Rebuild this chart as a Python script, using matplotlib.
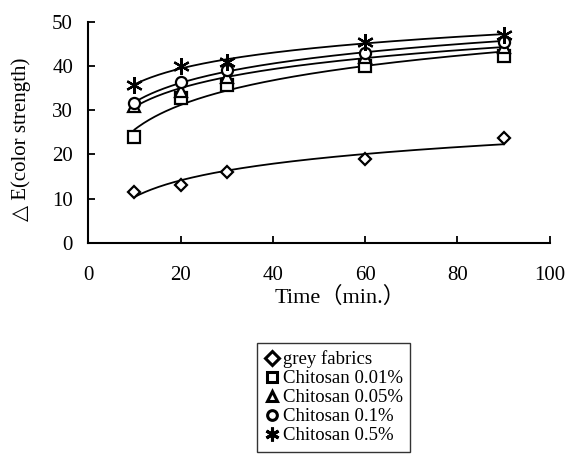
import numpy as np
import matplotlib
matplotlib.use("Agg")
import matplotlib.pyplot as plt

# Data
time_min = [10, 20, 30, 60, 90]
grey = [11.4, 13.0, 16.1, 19.0, 23.6]
chit_001 = [23.9, 32.7, 35.7, 39.9, 42.2]
chit_005 = [31.0, 34.4, 37.6, 42.0, 44.2]
chit_01 = [31.5, 36.3, 39.1, 43.0, 45.5]
chit_05 = [35.7, 39.9, 40.9, 45.5, 47.0]

labels = ["grey fabrics", "Chitosan 0.01%", "Chitosan 0.05%",
          "Chitosan 0.1%", "Chitosan 0.5%"]
series = [grey, chit_001, chit_005, chit_01, chit_05]
markers = ["D", "s", "^", "o", (6, 2, 0)]
msizes = [6, 8, 8, 8, 12]

serif = ["Liberation Serif", "DejaVu Serif", "Noto Sans CJK SC"]
plt.rcParams["font.family"] = serif

fig = plt.figure(figsize=(5.68, 4.54), dpi=100)
ax = fig.add_axes([0.1555, 0.4654, 0.9678 - 0.1555, 0.9522 - 0.4654])

x = np.array(time_min, dtype=float)
xs = np.linspace(10, 90, 200)
handles = []
for ys, m, ms, lab in zip(series, markers, msizes, labels):
    # logarithmic trendline, as in the original spreadsheet chart
    a, b = np.polyfit(np.log(x), ys, 1)
    ax.plot(xs, a * np.log(xs) + b, color="black", lw=1.3, zorder=2)
    h = ax.plot(x, ys, linestyle="none", marker=m, ms=ms, mfc="white",
                mec="black", mew=1.6, zorder=3, label=lab)[0]
    handles.append(h)

ax.set_xlim(0, 100)
ax.set_ylim(0, 50)
ax.set_xticks(range(0, 101, 20))
ax.set_yticks(range(0, 51, 10))
ax.spines["top"].set_visible(False)
ax.spines["right"].set_visible(False)
ax.spines["left"].set_linewidth(1.5)
ax.spines["bottom"].set_linewidth(1.5)
ax.tick_params(axis="x", direction="in", length=5, width=1.3, pad=17, labelsize=15)
ax.tick_params(axis="y", direction="in", length=5, width=1.3, pad=11, labelsize=15)

ax.set_xlabel("Time（min.）", fontsize=16, family=serif)
ax.xaxis.set_label_coords(0.545, -0.2)
ax.set_ylabel("△ E(color strength)", fontsize=15, family=serif)
ax.yaxis.set_label_coords(-0.125, 0.47)

leg = fig.legend(handles=handles, loc="upper left",
                 bbox_to_anchor=(256.7 / 568, 1 - 343 / 454),
                 borderaxespad=0, fontsize=13.5, frameon=True, fancybox=False,
                 handlelength=0.8, handletextpad=0.2, labelspacing=0.1,
                 borderpad=0.4)
leg.get_frame().set_edgecolor("black")
leg.get_frame().set_linewidth(1.0)
for h, m in zip(leg.legend_handles, markers):
    h.set_markersize(10 if m == (6, 2, 0) else 7)
    h.set_markeredgewidth(2.2)

fig.savefig("out.png", dpi=100)
